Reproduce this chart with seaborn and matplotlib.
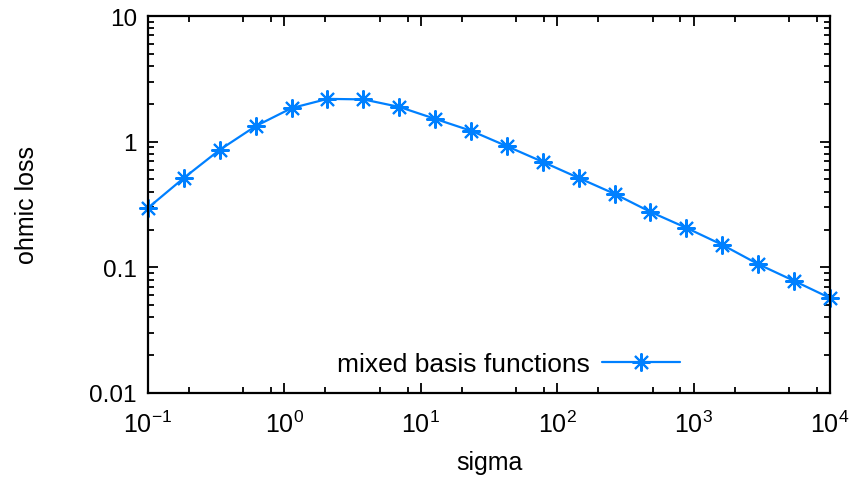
import numpy as np
import pandas as pd
import matplotlib
matplotlib.use("Agg")
import matplotlib.pyplot as plt
import seaborn as sns
from matplotlib.ticker import LogLocator, FixedLocator, FixedFormatter, NullFormatter

sigma = [0.1, 0.183, 0.335, 0.616, 1.13, 2.07, 3.79, 6.95, 12.7, 23.4,
         42.8, 78.5, 144, 264, 483, 886, 1624, 2976, 5456, 10000]
ohmic_loss = [0.297, 0.514, 0.86, 1.33, 1.85, 2.19, 2.17, 1.89, 1.52, 1.22,
              0.92, 0.69, 0.514, 0.384, 0.276, 0.206, 0.151, 0.106, 0.078, 0.057]
series_name = "mixed basis functions"
y_ticks = [0.01, 0.1, 1, 10]
y_tick_labels = ["0.01", "0.1", "1", "10"]

df = pd.DataFrame({"sigma": sigma, "ohmic loss": ohmic_loss, "series": series_name})

sns.set_style("ticks")
plt.rcParams["font.family"] = ["Liberation Sans", "DejaVu Sans"]
plt.rcParams["mathtext.fontset"] = "custom"
plt.rcParams["mathtext.rm"] = "Liberation Sans"
plt.rcParams["mathtext.it"] = "Liberation Sans"
plt.rcParams["axes.unicode_minus"] = False
plt.rcParams["text.color"] = "black"
plt.rcParams["axes.labelcolor"] = "black"

fig = plt.figure(figsize=(8.56, 4.89), dpi=100)
ax = fig.add_axes([148/856, 1-394/489, (830-148)/856, (394-17)/489])

color = "#0080ff"
sns.lineplot(data=df, x="sigma", y="ohmic loss", hue="series", palette=[color],
             marker=(8, 2, 0), markersize=13, markeredgewidth=1.5,
             markeredgecolor=color, linewidth=1.6, ax=ax, clip_on=False)

ax.set_xscale("log")
ax.set_yscale("log")
ax.set_xlim(0.1, 1e4)
ax.set_ylim(0.01, 10)

ax.xaxis.set_major_locator(LogLocator(base=10, numticks=10))
ax.xaxis.set_minor_locator(LogLocator(base=10, subs=[2, 5, 8], numticks=20))
ax.xaxis.set_minor_formatter(NullFormatter())
ax.yaxis.set_major_locator(FixedLocator(y_ticks))
ax.yaxis.set_major_formatter(FixedFormatter(y_tick_labels))
ax.yaxis.set_minor_locator(LogLocator(base=10, subs=np.arange(2, 10), numticks=20))
ax.yaxis.set_minor_formatter(NullFormatter())

for s in ax.spines.values():
    s.set_visible(True)
    s.set_linewidth(1.6)
    s.set_color("black")

ax.tick_params(which="both", direction="in", top=True, right=True,
               width=1.3, color="black", labelcolor="black")
ax.tick_params(which="major", length=7)
ax.tick_params(which="minor", length=4)
ax.tick_params(axis="x", which="major", labelsize=18, pad=13)
ax.tick_params(axis="y", which="major", labelsize=17.5, pad=8)

ax.set_xlabel("sigma", fontsize=18, labelpad=9)
ax.set_ylabel("ohmic loss", fontsize=18, labelpad=36)

leg = ax.legend(loc="center right", bbox_to_anchor=(0.815, 0.077), frameon=False,
                markerfirst=False, fontsize=19, handlelength=2.95, handletextpad=0.45,
                title=None)

fig.savefig("out.png", dpi=100)
